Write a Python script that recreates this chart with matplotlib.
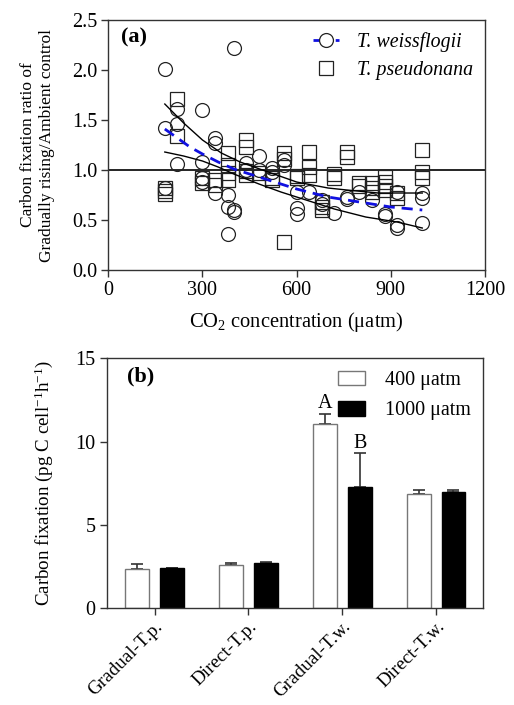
import matplotlib
matplotlib.use("Agg")
import matplotlib.pyplot as plt
from matplotlib.lines import Line2D

plt.rcParams['font.family'] = ['Liberation Serif', 'DejaVu Serif']
plt.rcParams['mathtext.fontset'] = 'custom'
plt.rcParams['mathtext.rm'] = 'Liberation Serif'
plt.rcParams['mathtext.it'] = 'Liberation Serif:italic'
plt.rcParams['font.size'] = 12.8

# ---- panel (a): scatter data ----
tw_x = [180, 180, 180, 220, 220, 220, 300, 300, 300, 300, 340, 340, 340,
        380, 380, 380, 400, 400, 400, 440, 440, 480, 480, 520, 520, 560, 560,
        600, 600, 600, 640, 680, 680, 720, 760, 760, 800, 840, 880, 880,
        920, 920, 920, 1000, 1000, 1000]
tw_y = [2.01, 1.42, 0.82, 1.61, 1.46, 1.06, 1.60, 1.08, 0.92, 0.88, 1.32, 1.27, 0.77,
        0.75, 0.63, 0.36, 2.22, 0.60, 0.58, 1.07, 1.00, 1.14, 1.00, 1.02, 0.98, 1.10, 1.05,
        0.78, 0.62, 0.56, 0.78, 0.70, 0.66, 0.57, 0.73, 0.71, 0.78, 0.70, 0.56, 0.54,
        0.78, 0.45, 0.42, 0.77, 0.72, 0.47]

tp_x = [180, 180, 180, 220, 220, 300, 300, 340, 340, 380, 380, 380, 380,
        440, 440, 440, 440, 480, 520, 520, 560, 560, 560, 600, 600,
        640, 640, 640, 680, 680, 680, 720, 720, 760, 760, 800, 800,
        840, 840, 840, 880, 880, 880, 880, 920, 920, 1000, 1000, 1000]
tp_y = [0.82, 0.79, 0.76, 1.71, 1.34, 0.92, 0.87, 0.90, 0.85, 1.17, 1.05, 0.97, 0.90,
        1.30, 1.23, 0.99, 0.95, 0.97, 0.92, 0.90, 1.17, 1.11, 0.28, 0.94, 0.92,
        1.18, 1.03, 0.95, 0.68, 0.63, 0.60, 0.96, 0.92, 1.18, 1.13, 0.87, 0.84,
        0.87, 0.82, 0.78, 0.93, 0.88, 0.84, 0.80, 0.77, 0.72, 1.20, 0.98, 0.92]

# fitted curve and its band, read at a few points
fit_x = [180, 220, 260, 300, 350, 400, 450, 500, 550, 600, 650, 700, 800, 900, 1000]
fit_y = [1.41, 1.32, 1.23, 1.16, 1.08, 1.01, 0.96, 0.91, 0.86, 0.81, 0.77, 0.73, 0.68, 0.63, 0.60]
up_x = [180, 240, 300, 360, 420, 500, 600, 700, 760, 860, 1000]
up_y = [1.66, 1.47, 1.30, 1.17, 1.08, 0.99, 0.88, 0.82, 0.80, 0.77, 0.77]
lo_x = [180, 240, 300, 350, 400, 480, 550, 610, 720, 820, 920, 1000]
lo_y = [1.18, 1.14, 1.09, 1.03, 0.96, 0.86, 0.78, 0.72, 0.61, 0.53, 0.48, 0.42]

# ---- panel (b): bar data ----
groups = ['Gradual-T.p.', 'Direct-T.p.', 'Gradual-T.w.', 'Direct-T.w.']
v400 = [2.34, 2.60, 11.06, 6.84]
e400 = [0.32, 0.10, 0.62, 0.24]
v1000 = [2.40, 2.74, 7.26, 6.98]
e1000 = [0.02, 0.03, 2.04, 0.10]

spine_col = '#333333'
tick_fs = 14.5

fig = plt.figure(figsize=(5.14, 7.05), dpi=100)

# ---------- (a) ----------
ax = fig.add_axes([0.2107, 0.617, 0.733, 0.3546])
ax.axhline(1.0, color='black', lw=1.2, zorder=1)
ax.plot(tp_x, tp_y, ls='none', marker='s', ms=9.5, mfc='none', mec='#222', mew=0.9, zorder=2)
ax.plot(tw_x, tw_y, ls='none', marker='o', ms=10, mfc='none', mec='#222', mew=0.9, zorder=2)
ax.plot(up_x, up_y, color='black', lw=1.0, zorder=3)
ax.plot(lo_x, lo_y, color='black', lw=1.0, zorder=3)
ax.plot(fit_x, fit_y, color='#1010e0', lw=2.0, ls=(0, (4, 2.5)), zorder=4)

ax.set_xlim(0, 1200)
ax.set_ylim(0, 2.5)
ax.set_xticks([0, 300, 600, 900, 1200])
ax.set_yticks([0.0, 0.5, 1.0, 1.5, 2.0, 2.5])
ax.set_yticklabels(['0.0', '0.5', '1.0', '1.5', '2.0', '2.5'])
ax.set_xlabel(r'CO$_2$ concentration ($\mathregular{\mu}$atm)', labelpad=7, fontsize=14.8)
ax.set_ylabel('Carbon fixation ratio of\nGradually rising/Ambient control', labelpad=12,
              linespacing=1.3, fontsize=12.5)
ax.text(0.035, 0.93, '(a)', transform=ax.transAxes, fontweight='bold', fontsize=16, va='center')

handles = [
    Line2D([], [], color='#1010e0', lw=2.0, ls=(0, (2.5, 1.5)), marker='o', ms=10,
           mfc='white', mec='#222', mew=0.9),
    Line2D([], [], ls='none', marker='s', ms=9.5, mfc='none', mec='#222', mew=0.9),
]
ax.legend(handles, ['T. weissflogii', 'T. pseudonana'], loc='upper right',
          frameon=False, prop={'style': 'italic', 'size': 14.3},
          handlelength=1.3, borderaxespad=0.2, labelspacing=0.45, handletextpad=0.9)

# ---------- (b) ----------
bx = fig.add_axes([0.2076, 0.1369, 0.732, 0.3546])
pos = list(range(len(groups)))
off = 0.186
w = 0.255
x400 = [p - off for p in pos]
x1000 = [p + off for p in pos]
bx.bar(x400, v400, width=w, color='white', edgecolor='#777777', lw=1.0, zorder=2,
       label='400 \u03bcatm')
bx.bar(x1000, v1000, width=w, color='black', edgecolor='black', lw=1.0, zorder=2,
       label='1000 \u03bcatm')
bx.errorbar(x400, v400, yerr=[[0] * 4, e400], fmt='none', ecolor='#333', elinewidth=1.2,
            capsize=4.5, capthick=1.2, zorder=1)
bx.errorbar(x1000, v1000, yerr=[[0] * 4, e1000], fmt='none', ecolor='#333', elinewidth=1.2,
            capsize=4.5, capthick=1.2, zorder=1)
bx.text(x400[2], v400[2] + e400[2] + 0.05, 'A', ha='center', va='bottom', fontsize=14.5)
bx.text(x1000[2], v1000[2] + e1000[2] + 0.05, 'B', ha='center', va='bottom', fontsize=14.5)

bx.set_xlim(-0.51, 3.5)
bx.set_ylim(0, 15)
bx.set_yticks([0, 5, 10, 15])
bx.set_xticks(pos)
bx.set_xticklabels(groups, rotation=45, ha='right', rotation_mode='anchor')
bx.set_ylabel('Carbon fixation (pg C cell$^{-1}$h$^{-1}$)', labelpad=15, fontsize=13.7)
bx.text(0.055, 0.93, '(b)', transform=bx.transAxes, fontweight='bold', fontsize=16, va='center')
bx.legend(loc='upper right', frameon=False, fontsize=14.5, handlelength=1.35, handleheight=0.75,
          borderaxespad=0.2, labelspacing=0.55, handletextpad=1.0)

for a in (ax, bx):
    for s in a.spines.values():
        s.set_color(spine_col)
        s.set_linewidth(1.0)
    a.tick_params(direction='out', length=5, width=1.0, color=spine_col, labelsize=tick_fs,
                  pad=3)
# slanted group names a touch smaller so they stay inside the figure
bx.tick_params(axis='x', labelsize=13.8, pad=2)

fig.savefig('out.png', dpi=100)
